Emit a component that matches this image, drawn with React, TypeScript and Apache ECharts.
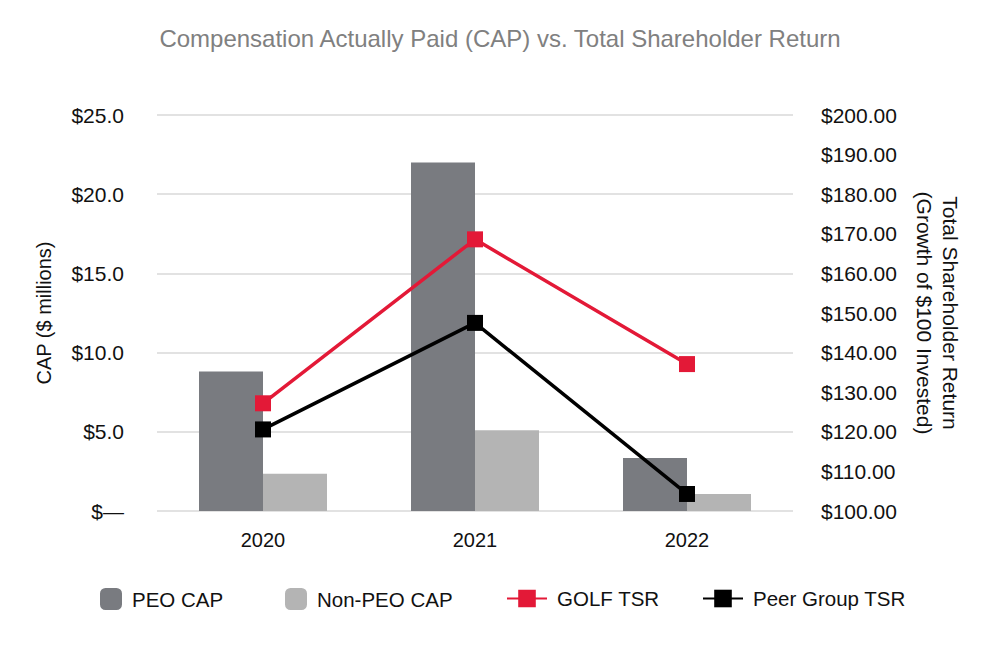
import React, { useEffect, useRef } from "react";
import * as echarts from "echarts";

const years = ["2020", "2021", "2022"];
const peoCap = [8.8, 22.0, 3.35];
const nonPeoCap = [2.35, 5.1, 1.07];
const golfTsr = [127.2, 168.6, 137.1];
const peerTsr = [120.6, 147.5, 104.3];

const FONT = "Liberation Sans, Arial, Helvetica, sans-serif";

export default function App() {
  const ref = useRef<HTMLDivElement>(null);
  useEffect(() => {
    if (!ref.current) return;
    const chart = echarts.init(ref.current, null, { renderer: "svg" });
    const legendText = { fontSize: 20.5, color: "#111", fontFamily: FONT, padding: [0, 0, 0, 5] };
    const legendBase = { top: 588, padding: 0, itemHeight: 22 };
    chart.setOption({
      animation: false,
      textStyle: { fontFamily: FONT },
      title: {
        text: "Compensation Actually Paid (CAP) vs. Total Shareholder Return",
        left: "center",
        top: 26,
        padding: 0,
        textStyle: { fontSize: 24, fontWeight: "normal", color: "#808080", fontFamily: FONT },
      },
      legend: [
        { ...legendBase, data: ["PEO CAP"], left: 100, itemWidth: 22, textStyle: legendText },
        { ...legendBase, data: ["Non-PEO CAP"], left: 285, itemWidth: 22, textStyle: legendText },
        { ...legendBase, data: ["GOLF TSR"], left: 506, itemWidth: 40, textStyle: legendText },
        { ...legendBase, data: ["Peer Group TSR"], left: 702, itemWidth: 40, textStyle: legendText },
      ],
      grid: { left: 157, right: 207, top: 115, bottom: 139 },
      xAxis: {
        type: "category",
        data: years,
        axisLine: { show: false },
        axisTick: { show: false },
        axisLabel: { fontSize: 20, color: "#111", margin: 19 },
      },
      yAxis: [
        {
          type: "value",
          min: 0,
          max: 25,
          interval: 5,
          name: "CAP ($ millions)",
          nameLocation: "middle",
          nameGap: 103,
          nameTextStyle: { fontSize: 20, color: "#111" },
          axisLabel: {
            fontSize: 21,
            color: "#111",
            margin: 33,
            formatter: (v: number) => (v === 0 ? "$\u2014" : "$" + v.toFixed(1)),
          },
          axisLine: { show: false },
          axisTick: { show: false },
          splitLine: { lineStyle: { color: "#e2e2e2", width: 2 } },
        },
        {
          type: "value",
          min: 100,
          max: 200,
          interval: 10,
          name: "Total Shareholder Return\n(Growth of $100 Invested)",
          nameLocation: "middle",
          nameRotate: -90,
          nameGap: 118,
          nameTextStyle: { fontSize: 21, color: "#111", lineHeight: 26 },
          axisLabel: {
            fontSize: 21,
            color: "#111",
            margin: 28,
            formatter: (v: number) => "$" + v.toFixed(2),
          },
          axisLine: { show: false },
          axisTick: { show: false },
          splitLine: { show: false },
        },
      ],
      series: [
        {
          name: "PEO CAP",
          type: "bar",
          data: peoCap,
          barWidth: 64,
          barGap: "0%",
          itemStyle: { color: "#797b80" },
        },
        {
          name: "Non-PEO CAP",
          type: "bar",
          data: nonPeoCap,
          barWidth: 64,
          barGap: "0%",
          itemStyle: { color: "#b4b4b4" },
        },
        {
          name: "GOLF TSR",
          type: "line",
          yAxisIndex: 1,
          data: golfTsr,
          symbol: "rect",
          symbolSize: 16,
          lineStyle: { color: "#e31937", width: 3.5 },
          itemStyle: { color: "#e31937" },
        },
        {
          name: "Peer Group TSR",
          type: "line",
          yAxisIndex: 1,
          data: peerTsr,
          symbol: "rect",
          symbolSize: 16,
          lineStyle: { color: "#000", width: 3.5 },
          itemStyle: { color: "#000" },
        },
      ],
    });
    return () => chart.dispose();
  }, []);
  return (
    <div
      ref={ref}
      style={{ position: "absolute", left: 0, top: 0, width: 1000, height: 650, background: "#fff" }}
    />
  );
}
